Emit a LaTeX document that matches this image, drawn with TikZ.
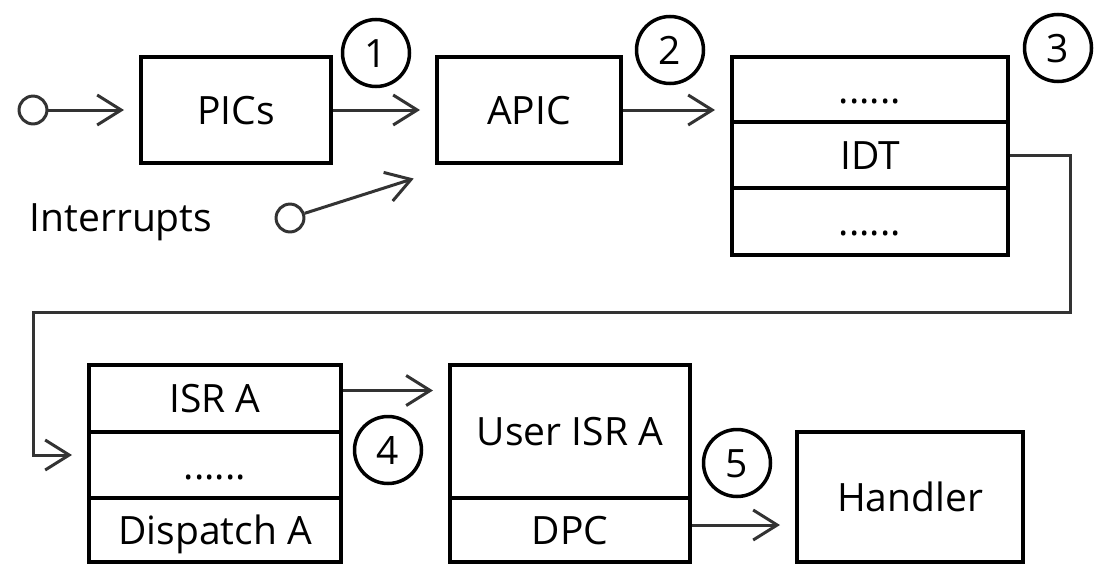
\documentclass[tikz,border=0pt]{standalone}
\usepackage{fontspec}
\setmainfont{Open Sans}
\usetikzlibrary{arrows.meta}

\begin{document}
\begin{tikzpicture}[x=1pt,y=-1pt,
  every node/.style={font=\fontsize{39}{46}\selectfont, text height=28pt, text depth=0pt, inner sep=0pt},
  blk/.style={draw=black, line width=4pt, rectangle},
  num/.style={draw=black, line width=3.5pt, circle, minimum size=67pt},
  port/.style={draw=black!80, line width=3pt, circle, minimum size=24pt},
  conn/.style={draw=black!80, line width=3pt,
    -{Straight Barb[length=24pt,width=30pt]}, shorten >=15pt},
]
\useasboundingbox (0,0) rectangle (1103,565);

% top row: controllers and the descriptor table
\node[blk, minimum width=190pt, minimum height=106pt] (pics) at (236,110) {PICs};
\node[blk, minimum width=184pt, minimum height=106pt] (apic) at (529,110) {APIC};
\node[blk, minimum width=276pt, minimum height=65pt] (idt1) at (870,89.5) {......};
\node[blk, minimum width=276pt, minimum height=66pt] (idt2) at (870,155) {IDT};
\node[blk, minimum width=276pt, minimum height=67pt] (idt3) at (870,221.5) {......};

% bottom row: service routines and handler
\node[blk, minimum width=252pt, minimum height=67pt] (isr1) at (215,398.5) {ISR A};
\node[blk, minimum width=252pt, minimum height=66pt] (isr2) at (215,465) {......};
\node[blk, minimum width=252pt, minimum height=64pt] (isr3) at (215,530) {Dispatch A};
\node[blk, minimum width=240pt, minimum height=133pt] (user1) at (570,431.5) {User ISR A};
\node[blk, minimum width=240pt, minimum height=64pt] (user2) at (570,530) {DPC};
\node[blk, minimum width=226pt, minimum height=130pt] (handler) at (910,497) {Handler};

% step numbers
\node[num] (n1) at (376,53) {1};
\node[num] (n2) at (670,50) {2};
\node[num] (n3) at (1058,48) {3};
\node[num] (n4) at (388,450) {4};
\node[num] (n5) at (737,463) {5};

% interrupt sources
\node[port] (in1) at (33,110) {};
\node[port] (in2) at (290,218) {};
\node (intr) at (121,217) {Interrupts};
\coordinate (apicin) at (428,174);
\coordinate (loopR) at (1070,312);
\coordinate (loopL) at (33,312);

% connectors
\draw[conn] (in1) -- (pics);
\draw[conn] (in2) -- (apicin);
\draw[conn] (pics) -- (apic);
\draw[conn] (apic.east) -- (apic.east -| idt1.west);
\draw[conn] (idt2.east) -| (loopR) -- (loopL) |- ([yshift=10pt]isr2.west);
\draw[conn] ([yshift=8pt]isr1.east) -- ([yshift=8pt]isr1.east -| user1.west);
\draw[conn] ([yshift=5pt]user2.east) -- ([yshift=5pt]user2.east -| handler.west);
\end{tikzpicture}
\end{document}
